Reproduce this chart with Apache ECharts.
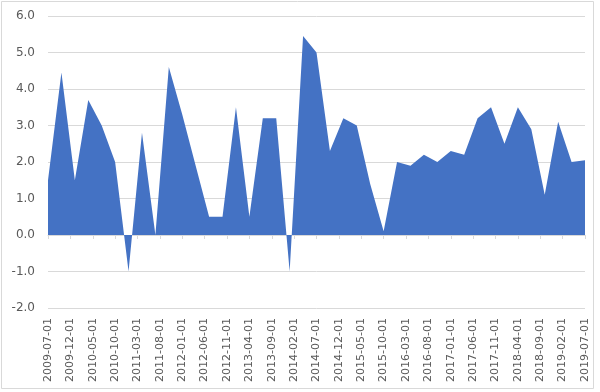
<!DOCTYPE html>
<html>
<head>
<meta charset="utf-8">
<script src="https://cdn.jsdelivr.net/npm/echarts@6/dist/echarts.min.js"></script>
<style>
html,body{margin:0;padding:0;background:#fff;}
#chart{width:600px;height:392px;}
</style>
</head>
<body>
<div id="chart"></div>
<script>
// Quarterly observations
var quarterDates = [
  '2009-07-01','2009-10-01','2010-01-01','2010-04-01','2010-07-01','2010-10-01',
  '2011-01-01','2011-04-01','2011-07-01','2011-10-01','2012-01-01','2012-04-01',
  '2012-07-01','2012-10-01','2013-01-01','2013-04-01','2013-07-01','2013-10-01',
  '2014-01-01','2014-04-01','2014-07-01','2014-10-01','2015-01-01','2015-04-01',
  '2015-07-01','2015-10-01','2016-01-01','2016-04-01','2016-07-01','2016-10-01',
  '2017-01-01','2017-04-01','2017-07-01','2017-10-01','2018-01-01','2018-04-01',
  '2018-07-01','2018-10-01','2019-01-01','2019-04-01','2019-07-01'
];
var values = [
  1.5, 4.45, 1.5, 3.7, 3.0, 2.0,
  -1.0, 2.8, 0.0, 4.6, 3.3, 1.9,
  0.5, 0.5, 3.5, 0.5, 3.2, 3.2,
  -1.0, 5.45, 5.0, 2.3, 3.2, 3.0,
  1.4, 0.1, 2.0, 1.9, 2.2, 2.0,
  2.3, 2.2, 3.2, 3.5, 2.5, 3.5,
  2.9, 1.1, 3.1, 2.0, 2.05
];
var startMonth = '2009-07';
var endMonth = '2019-07';
var yTicks = [-2, -1, 0, 1, 2, 3, 4, 5, 6];

// monthly category list (axis spans monthly; labels every 5 months)
var months = [];
(function(){
  var sy = +startMonth.slice(0,4), sm = +startMonth.slice(5,7);
  var ey = +endMonth.slice(0,4), em = +endMonth.slice(5,7);
  var y = sy, m = sm;
  while (y < ey || (y === ey && m <= em)) {
    months.push(y + '-' + (m < 10 ? '0' + m : m) + '-01');
    m++; if (m > 12) { m = 1; y++; }
  }
})();
var lookup = {};
quarterDates.forEach(function(d, i){ lookup[d] = values[i]; });
var seriesData = months.map(function(d){ return lookup.hasOwnProperty(d) ? lookup[d] : null; });

var chart = echarts.init(document.getElementById('chart'), null, {renderer:'canvas'});
var font = 'DejaVu Sans';
chart.setOption({
  animation: false,
  backgroundColor: '#ffffff',
  graphic: [{
    type: 'rect', silent: true, z: -1,
    shape: {x: 1.5, y: 1.5, width: 592, height: 387},
    style: {fill: 'none', stroke: '#d9d9d9', lineWidth: 1}
  }],
  grid: {left: 48, right: 15, top: 16, bottom: 84, containLabel: false},
  xAxis: [{
    type: 'category',
    data: months,
    boundaryGap: false,
    axisLine: {show: true, onZero: true, lineStyle: {color: '#d9d9d9'}},
    axisTick: {show: true, interval: 4, length: 4, lineStyle: {color: '#d9d9d9'}},
    axisLabel: {show: false},
    splitLine: {show: false}
  }, {
    type: 'category',
    data: months,
    boundaryGap: false,
    position: 'bottom',
    axisLine: {show: false, onZero: false},
    axisTick: {show: false},
    axisLabel: {show: true, interval: 4, rotate: 90, margin: 10,
      color: '#595959', fontSize: 11, fontFamily: font},
    splitLine: {show: false}
  }],
  yAxis: {
    type: 'value',
    min: yTicks[0], max: yTicks[yTicks.length - 1], interval: 1,
    axisLine: {show: false},
    axisTick: {show: false},
    axisLabel: {color: '#595959', fontSize: 12, fontFamily: font, margin: 13,
      formatter: function(v){ return v.toFixed(1); }},
    splitLine: {lineStyle: {color: '#d9d9d9', width: 1}}
  },
  series: [{
    type: 'line',
    xAxisIndex: 0,
    data: seriesData,
    connectNulls: true,
    showSymbol: false,
    symbol: 'none',
    lineStyle: {width: 0, color: '#4472C4'},
    itemStyle: {color: '#4472C4'},
    areaStyle: {color: '#4472C4', opacity: 1, origin: 0}
  }]
});
</script>
</body>
</html>
